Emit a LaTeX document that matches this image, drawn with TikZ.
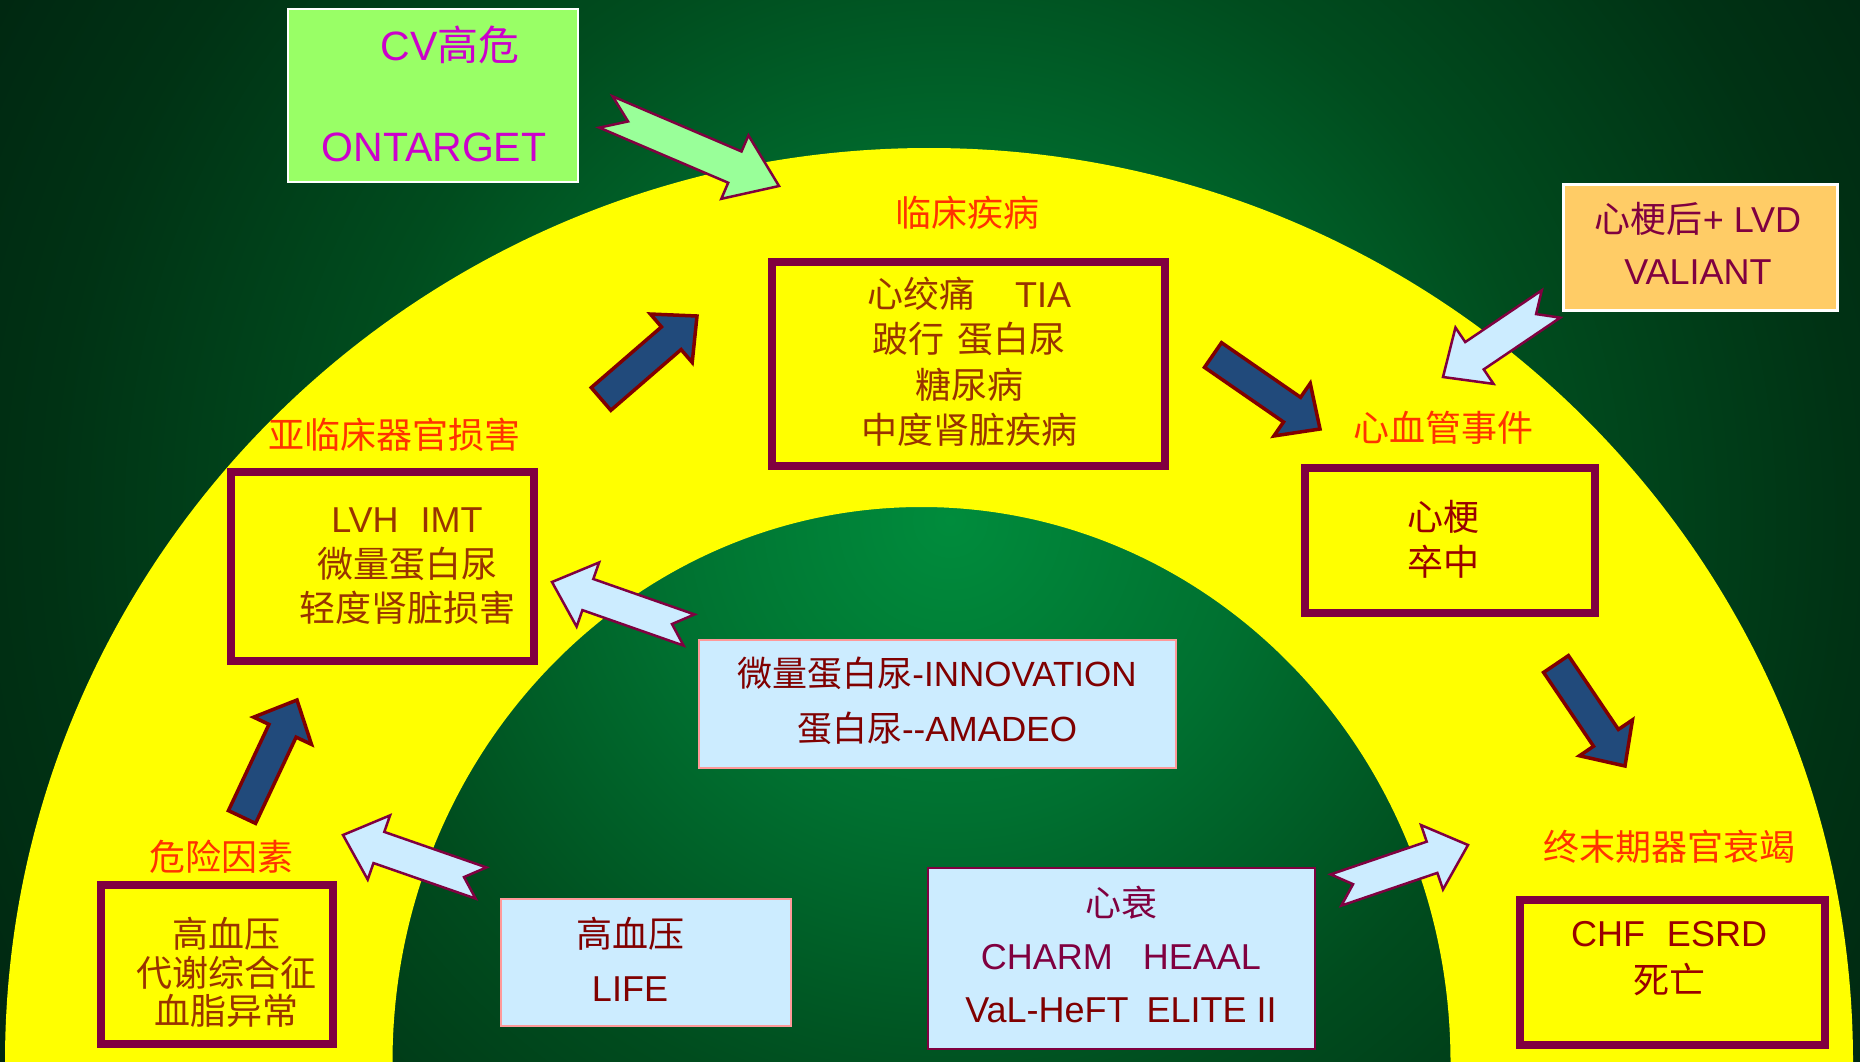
\documentclass[tikz,border=0pt]{standalone}
\usepackage{fontspec}
\setmainfont{Liberation Sans}
\newfontfamily\cjk{Noto Sans CJK SC}
\newcommand\zh[1]{{\cjk #1}}
\definecolor{bgA}{HTML}{008C3C}
\definecolor{bgB}{HTML}{007030}
\definecolor{bgC}{HTML}{004C1E}
\definecolor{bgD}{HTML}{003214}
\definecolor{bgE}{HTML}{002410}
\definecolor{ylw}{HTML}{FFFF00}
\definecolor{bord}{HTML}{800040}
\definecolor{lbl}{HTML}{FF3300}
\definecolor{txtb}{HTML}{993300}
\definecolor{txtr}{HTML}{990000}
\definecolor{mar}{HTML}{800000}
\definecolor{lblue}{HTML}{CCECFF}
\definecolor{pinkb}{HTML}{FF9999}
\definecolor{cvfill}{HTML}{99FF66}
\definecolor{cvtxt}{HTML}{CC00CC}
\definecolor{orfill}{HTML}{FFCC66}
\definecolor{arblue}{HTML}{214A7B}
\definecolor{argreen}{HTML}{99FF99}
\pgfdeclareradialshading{bgshade}{\pgfpoint{0bp}{0bp}}{color(0bp)=(bgA); color(6.5bp)=(bgB); color(13bp)=(bgC); color(19.6bp)=(bgD); color(25bp)=(bgE); color(50bp)=(bgE)}
% tail x, tail y, tip x, tip y, shaft half width, head half width, head length, notch depth, style
\newcommand\blockarr[9]{%
  \pgfmathsetmacro\baang{atan2((#4)-(#2),(#1)-(#3))}%
  \pgfmathsetmacro\balen{veclen((#1)-(#3),(#2)-(#4))}%
  \begin{scope}[shift={(#3,#4)},rotate=\baang]
    \draw[#9] (0,0) -- (#7,#6) -- (#7,#5) -- (\balen,#5) -- ({\balen-#8},0) -- (\balen,-#5) -- (#7,-#5) -- (#7,-#6) -- cycle;
  \end{scope}}
\tikzset{
  stagebox/.style={draw=bord, line width=8pt, fill=ylw, inner sep=0pt},
  lbltext/.style={text=lbl, font=\fontsize{36}{40}\selectfont, inner sep=0pt},
  boxtext/.style={text=txtb, align=center, inner sep=0pt},
  trialbox/.style={fill=lblue, draw=pinkb, line width=2pt, inner sep=0pt},
  bluearrow/.style={fill=arblue, draw=mar, line width=3.5pt},
  lbarrow/.style={fill=lblue, draw=bord, line width=2.5pt},
  grarrow/.style={fill=argreen, draw=bord, line width=2.5pt}
}
\begin{document}
\begin{tikzpicture}[x=1pt,y=-1pt]
\useasboundingbox (0,0) rectangle (1860,1062);
\begin{scope}
  \clip (0,0) rectangle (1860,1062);
  \fill[bgE] (0,0) rectangle (1860,1062);
  \shade[shading=bgshade] (950,520) circle (1150pt);
  \fill[ylw, even odd rule] (929,1062) ellipse [x radius=924pt, y radius=914pt]
                            (921.5,1062) ellipse [x radius=529pt, y radius=555pt];
\end{scope}

% stage boxes
\node[stagebox, minimum width=393pt, minimum height=204pt] (clin) at (968.5,364) {};
\node[stagebox, minimum width=303pt, minimum height=189pt] (sub) at (382.5,566.5) {};
\node[stagebox, minimum width=232pt, minimum height=159pt] (risk) at (217,964.5) {};
\node[stagebox, minimum width=290pt, minimum height=145pt] (cve) at (1450,540.5) {};
\node[stagebox, minimum width=305pt, minimum height=145pt] (esod) at (1672.5,972.5) {};

% stage labels
\node[lbltext] (clinl) at (967,213) {\zh{临床疾病}};
\node[lbltext] (subl) at (394,435) {\zh{亚临床器官损害}};
\node[lbltext] (riskl) at (221,857) {\zh{危险因素}};
\node[lbltext] (cvel) at (1443,428) {\zh{心血管事件}};
\node[lbltext] (esodl) at (1669,847) {\zh{终末期器官衰竭}};

% stage contents
\node[boxtext, font=\fontsize{36}{45.5}\selectfont] (clint) at (969,362)
  {\zh{心绞痛}\hspace{40pt}TIA\\\zh{跛行}\hspace{14pt}\zh{蛋白尿}\\\zh{糖尿病}\\\zh{中度肾脏疾病}};
\node[boxtext, font=\fontsize{36}{44.5}\selectfont] (subt) at (407,566.5)
  {LVH\hspace{22pt}IMT\\\zh{微量蛋白尿}\\\zh{轻度肾脏损害}};
\node[boxtext, font=\fontsize{36}{38.5}\selectfont] (riskt) at (226,972.5)
  {\zh{高血压}\\\zh{代谢综合征}\\\zh{血脂异常}};
\node[boxtext, text=txtr, font=\fontsize{36}{45}\selectfont] (cvet) at (1443,539.5)
  {\zh{心梗}\\\zh{卒中}};
\node[boxtext, text=txtr, font=\fontsize{36}{47}\selectfont] (esodt) at (1669,958.5)
  {CHF\hspace{22pt}ESRD\\\zh{死亡}};

% trial boxes
\node[fill=cvfill, draw=white, line width=2pt, minimum width=290pt, minimum height=173pt, inner sep=0pt] (cv) at (433,95.5) {};
\node[text=cvtxt, font=\fontsize{41}{45}\selectfont, inner sep=0pt] (cvt1) at (450,45) {CV\zh{高危}};
\node[text=cvtxt, font=\fontsize{41}{45}\selectfont, inner sep=0pt] (cvt2) at (434,147) {ONTARGET};

\node[fill=orfill, draw=white, line width=3pt, minimum width=274pt, minimum height=126pt, inner sep=0pt] (val) at (1700,247) {};
\node[text=bord, align=center, font=\fontsize{36}{52}\selectfont, inner sep=0pt] (valt) at (1698,243)
  {\zh{心梗后}+ LVD\\VALIANT};

\node[trialbox, minimum width=477pt, minimum height=128pt] (inn) at (937.5,704) {};
\node[text=mar, align=center, font=\fontsize{35}{55}\selectfont, inner sep=0pt] (innt) at (937,700.5)
  {\zh{微量蛋白尿}-INNOVATION\\\zh{蛋白尿}-{}-AMADEO};

\node[trialbox, minimum width=290pt, minimum height=127pt] (life) at (646,962.5) {};
\node[text=mar, align=center, font=\fontsize{36}{54}\selectfont, inner sep=0pt] (lifet) at (630,959)
  {\zh{高血压}\\LIFE};

\node[trialbox, draw=bord, minimum width=387pt, minimum height=181pt] (hf) at (1121.5,958.5) {};
\node[text=bord, align=center, font=\fontsize{36}{53}\selectfont, inner sep=0pt] (hft) at (1121,954)
  {\zh{心衰}\\CHARM\hspace{30pt}HEAAL\\\textcolor{mar}{VaL-HeFT\hspace{18pt}ELITE II}};

% progression arrows
\blockarr{242}{817}{297}{700}{15}{32}{34}{0}{bluearrow}
\blockarr{601}{399}{697}{316}{15}{32}{34}{0}{bluearrow}
\blockarr{1213}{355}{1320}{429}{15}{32}{34}{0}{bluearrow}
\blockarr{1556}{664}{1625}{766}{15}{32}{34}{0}{bluearrow}

% trial arrows
\blockarr{481}{883}{343}{835}{16.5}{34}{38}{18}{lbarrow}
\blockarr{689}{630}{552}{582}{16.5}{34}{38}{18}{lbarrow}
\blockarr{1336}{890}{1468}{845}{16.5}{34}{38}{18}{lbarrow}
\blockarr{1551}{304}{1443}{377}{16.5}{34}{38}{18}{lbarrow}
\blockarr{606}{112}{779}{186}{17}{34.5}{48}{24}{grarrow}
\end{tikzpicture}
\end{document}
